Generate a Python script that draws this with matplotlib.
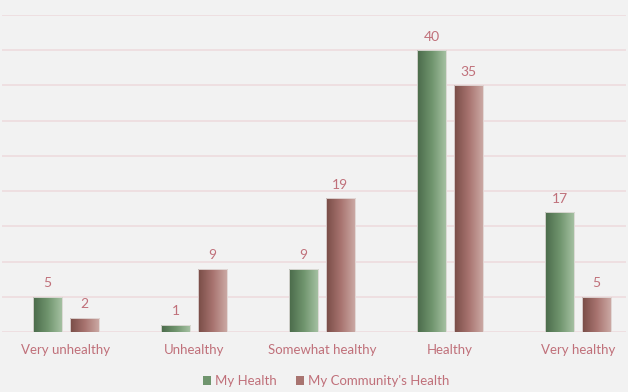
import matplotlib.pyplot as plt
import matplotlib.colors as mcolors
import numpy as np

categories = ["Very unhealthy", "Unhealthy", "Somewhat healthy", "Healthy", "Very healthy"]
my_health = [5, 1, 9, 40, 17]
community_health = [2, 9, 19, 35, 5]

text_color = "#c0707a"
grid_color = "#eddadd"
bg = "#f2f2f2"

green_cmap = mcolors.LinearSegmentedColormap.from_list("g", ["#4a6a4a", "#70956e", "#a8c3a5"])
brown_cmap = mcolors.LinearSegmentedColormap.from_list("b", ["#784c46", "#a87470", "#cdaca7"])

plt.rcParams['font.family'] = ['Lato', 'DejaVu Sans']

fig = plt.figure(figsize=(6.28, 3.92), dpi=100, facecolor=bg)
ax = fig.add_axes([2 / 628, 1 - 332 / 392, 624 / 628, 317 / 392])
ax.set_facecolor(bg)

x = np.arange(len(categories))
off = 0.143
w = 0.227
grad = np.linspace(0, 1, 256).reshape(1, -1)


def gradient_bars(xs, vals, cmap):
    bars = ax.bar(xs, vals, w, facecolor="none", edgecolor="#e6e0df", linewidth=0.6, zorder=3)
    for b in bars:
        x0, y0 = b.get_x(), b.get_y()
        im = ax.imshow(grad, cmap=cmap, aspect="auto", zorder=2,
                       extent=[x0, x0 + b.get_width(), y0, y0 + b.get_height()])
        im.set_clip_path(b)
    for xi, v in zip(xs, vals):
        ax.annotate(str(v), (xi, v), xytext=(0, 5.5), textcoords="offset points",
                    ha="center", va="bottom", color=text_color, fontsize=10)
    return bars


gradient_bars(x - off, my_health, green_cmap)
gradient_bars(x + off, community_health, brown_cmap)

ax.set_xlim(-0.5, 4.375)
ax.set_ylim(0, 45)
ax.set_yticks(range(0, 46, 5))
ax.yaxis.grid(True, color=grid_color, linewidth=1.1, zorder=0)
ax.set_axisbelow(True)
ax.set_yticklabels([])
ax.tick_params(axis="y", length=0)
ax.set_xticks(x)
ax.set_xticklabels(categories, color=text_color, fontsize=9.5)
ax.tick_params(axis="x", length=0, pad=9)
for s in ax.spines.values():
    s.set_visible(False)

handles = [plt.Rectangle((0, 0), 1, 1, facecolor="#70956e"),
           plt.Rectangle((0, 0), 1, 1, facecolor="#a87470")]
fig.legend(handles, ["My Health", "My Community's Health"], loc="center",
           bbox_to_anchor=(326 / 628, 1 - 381 / 392), ncol=2, frameon=False,
           fontsize=9.5, labelcolor=text_color, handlelength=0.6, handleheight=0.6,
           handletextpad=0.3, columnspacing=1.5)

fig.savefig("out.png", dpi=100, facecolor=bg)
